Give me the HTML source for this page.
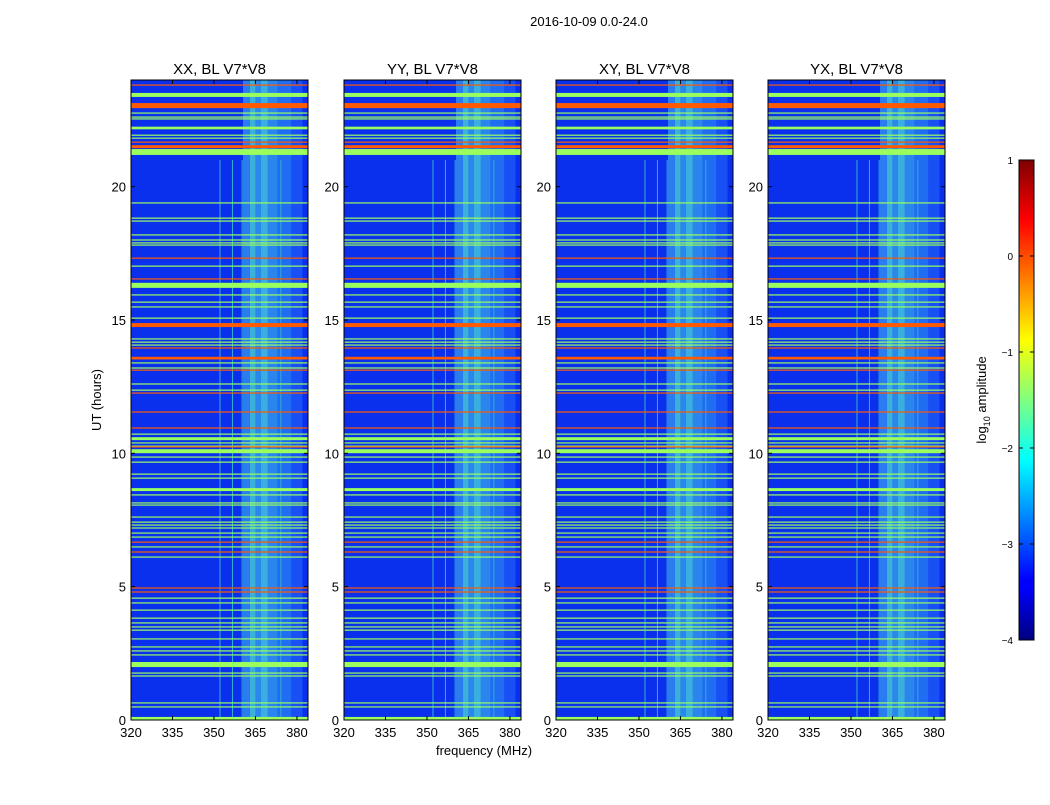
<!DOCTYPE html>
<html><head><meta charset="utf-8"><style>
body{margin:0;background:#fff;width:1050px;height:800px;overflow:hidden}
svg{font-family:"Liberation Sans",sans-serif}
</style></head><body>
<svg id="fig" width="1050" height="800">
<text x="589" y="26" font-size="13" text-anchor="middle">2016-10-09 0.0-24.0</text>
<text x="484" y="755" font-size="13" text-anchor="middle">frequency (MHz)</text>
<text transform="translate(101,400) rotate(-90)" font-size="13" text-anchor="middle">UT (hours)</text>
<defs><linearGradient id="jet" x1="0" y1="1" x2="0" y2="0">
<stop offset="0" stop-color="#00007f"/><stop offset="0.11" stop-color="#0000ff"/><stop offset="0.125" stop-color="#0000ff"/>
<stop offset="0.375" stop-color="#00ffff"/><stop offset="0.625" stop-color="#ffff00"/><stop offset="0.875" stop-color="#ff0000"/><stop offset="1" stop-color="#7f0000"/>
</linearGradient></defs>
<g id="panels"></g>
<g>
<rect x="1019" y="160" width="15" height="480" fill="url(#jet)" stroke="#000" stroke-width="1"/>
<text transform="translate(986,400) rotate(-90)" font-size="13" text-anchor="middle">log<tspan font-size="9" dy="4">10</tspan><tspan dy="-4"> amplitude</tspan></text>
<g id="cbticks"></g>
</g>
</svg>
<script>
const panelTitles=["XX, BL V7*V8","YY, BL V7*V8","XY, BL V7*V8","YX, BL V7*V8"];
const panelLeft=[131,344,556,768];
const xTicks=[320,335,350,365,380];
const yTicks=[0,5,10,15,20];
const cbTicks=[1,0,-1,-2,-3,-4];
const cbLabels=["1","0","\u22121","\u22122","\u22123","\u22124"];
// flagged / RFI rows: hour centre, width (hours)
const rowHours=[23.81,23.44,23.04,22.76,22.61,22.54,22.2,21.93,21.82,21.67,21.5,21.3,19.39,18.82,18.71,18.19,18.0,17.89,17.81,17.32,17.02,16.54,16.3,15.94,15.67,15.49,15.07,14.81,14.29,14.17,14.06,13.95,13.57,13.39,13.2,13.12,12.6,12.37,12.26,11.55,10.95,10.72,10.55,10.39,10.27,10.24,10.08,9.86,9.67,9.22,9.07,8.64,8.44,8.14,8.06,7.61,7.42,7.31,7.2,7.01,6.86,6.67,6.49,6.3,6.11,4.95,4.8,4.57,4.39,4.12,3.82,3.64,3.49,3.37,3.04,2.74,2.59,2.44,2.08,1.76,1.65,0.64,0.49,0.06];
const rowWidths=[0.04,0.15,0.19,0.04,0.04,0.04,0.1,0.04,0.04,0.04,0.11,0.22,0.04,0.04,0.04,0.04,0.04,0.04,0.04,0.04,0.04,0.04,0.19,0.04,0.04,0.04,0.04,0.15,0.04,0.04,0.04,0.04,0.1,0.04,0.04,0.04,0.04,0.04,0.04,0.04,0.04,0.04,0.11,0.04,0.04,0.04,0.15,0.04,0.04,0.04,0.04,0.11,0.04,0.04,0.04,0.04,0.04,0.04,0.04,0.04,0.04,0.04,0.04,0.04,0.04,0.04,0.04,0.04,0.04,0.04,0.04,0.04,0.04,0.04,0.04,0.04,0.04,0.04,0.19,0.04,0.04,0.04,0.04,0.11];
// hours of the orange (high amplitude) rows; all others green
const orangeHours=[23.81,23.04,21.67,21.5,17.32,16.54,14.81,13.95,13.57,13.12,12.26,11.55,10.95,10.24,6.67,6.3,4.95,4.8];
// frequency bands of bright emission: start MHz, end MHz, colour
const bandStart=[360.5,363,365,367,369.5,373,378];
const bandEnd=[363,365,367,369.5,373,378,382];
const bandColor=["#2a7cf0","#3cb0d8","#2a88ec","#3aaee0","#2a86ec","#206cf2","#1850f6"];
// narrow vertical RFI lines (MHz)
const spikeFreq=[352,356.5,360,374];
const NS="http://www.w3.org/2000/svg";
const W=177,Y0=80,H=640,FMIN=320,FMAX=384,TMAX=24;
function xs(f,l){return l+(f-FMIN)/(FMAX-FMIN)*W;}
function ys(h){return Y0+H-(h/TMAX)*H;}
function mk(t,a,p){const e=document.createElementNS(NS,t);for(const k in a)e.setAttribute(k,a[k]);p.appendChild(e);return e;}
const root=document.getElementById('panels');
panelLeft.forEach((L,pi)=>{
  const g=mk('g',{},root);
  
  
  mk('rect',{x:L,y:Y0,width:W,height:H,fill:'#0a30ee'},g);
  bandStart.forEach((s,i)=>{
    const r=mk('rect',{x:xs(s,L),y:Y0,width:xs(bandEnd[i],L)-xs(s,L),height:H,fill:bandColor[i]},g);
    
    
  });
  spikeFreq.forEach(f=>{
    const r=mk('rect',{x:xs(f,L),y:ys(21),width:1,height:ys(0)-ys(21),fill:'#30b0d0'},g);
    
    
  });
  rowHours.forEach((h,i)=>{
    const hp=Math.max(1.2,rowWidths[i]/TMAX*H);
    const isO=orangeHours.indexOf(h)>=0;
    const r=mk('rect',{x:L,y:ys(h)-hp/2,width:W,height:hp,fill:isO?'#ff5a00':'#9aff5e'},g);
    
    
  });
  mk('rect',{x:L,y:Y0,width:W,height:H,fill:'none',stroke:'#000','stroke-width':1},g);
  const t=mk('text',{x:L+W/2,y:74,'font-size':15,'text-anchor':'middle'},g);
  t.textContent=panelTitles[pi];
  
  
  xTicks.forEach(v=>{
    const x=xs(v,L);
    mk('line',{x1:x,y1:Y0+H,x2:x,y2:Y0+H-4,stroke:'#000'},g);
    mk('line',{x1:x,y1:Y0,x2:x,y2:Y0+4,stroke:'#000'},g);
    const tx=mk('text',{x:x,y:Y0+H+17,'font-size':13,'text-anchor':'middle'},g);
    tx.textContent=v;
    
    
  });
  yTicks.forEach(v=>{
    const y=ys(v);
    mk('line',{x1:L,y1:y,x2:L+4,y2:y,stroke:'#000'},g);
    mk('line',{x1:L+W,y1:y,x2:L+W-4,y2:y,stroke:'#000'},g);
    const ty=mk('text',{x:L-5,y:y+5,'font-size':13,'text-anchor':'end'},g);
    ty.textContent=v;
    
    
  });
});
const cb=document.getElementById('cbticks');
cbTicks.forEach((v,i)=>{
  const y=160+(1-v)/5*480;
  mk('line',{x1:1019,y1:y,x2:1023,y2:y,stroke:'#000'},cb);
  mk('line',{x1:1034,y1:y,x2:1030,y2:y,stroke:'#000'},cb);
  const t=mk('text',{x:1013,y:y+4,'font-size':10,'text-anchor':'end'},cb);
  t.textContent=cbLabels[i];
  
  
});
</script>
</body></html>
